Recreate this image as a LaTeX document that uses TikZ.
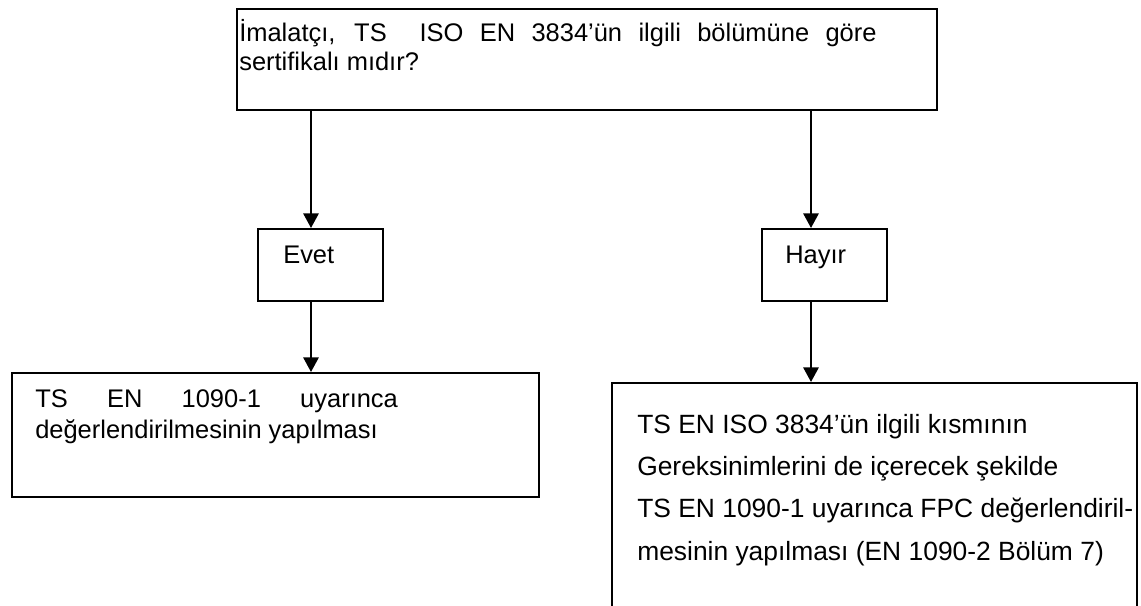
\documentclass[tikz,border=0pt]{standalone}
\usepackage{fontspec}
\setmainfont{Liberation Sans}
\usetikzlibrary{arrows.meta}
\begin{document}
\begin{tikzpicture}[x=0.75pt,y=-0.75pt,
  box/.style={draw, line width=1.6pt, rectangle, inner sep=0pt, anchor=north west},
  txt/.style={anchor=base west, inner sep=0pt, font=\fontsize{19.1}{22}\selectfont},
  txtb/.style={anchor=base west, inner sep=0pt, font=\fontsize{19.8}{22}\selectfont},
  arr/.style={line width=1.6pt, -{Triangle[length=11pt,width=11.5pt]}}]
\useasboundingbox (0,0) rectangle (1141,606);
\clip (0,0) rectangle (1141,606);
% boxes
\node[box, minimum width=525pt, minimum height=75.75pt] (top) at (236,8) {};
\node[box, minimum width=93.75pt, minimum height=54pt] (evet) at (257,228) {};
\node[box, minimum width=93.75pt, minimum height=54pt] (hayir) at (761,228) {};
\node[box, minimum width=395.25pt, minimum height=93pt] (lbox) at (11,372) {};
\node[box, minimum width=393.75pt, minimum height=186pt] (rbox) at (611,382) {};
% texts
\node[txt] (top1) at (239,42) {\makebox[478pt][s]{İmalatçı, TS\ \ ISO EN 3834’ün ilgili bölümüne göre}};
\node[txt] (top2) at (239,71) {sertifikalı mıdır?};
\node[txt] (evett) at (283,263) {Evet};
\node[txt] (hayirt) at (785,263) {Hayır};
\node[txt] (left1) at (35,407) {\makebox[272pt][s]{TS EN 1090-1 uyarınca}};
\node[txt] (left2) at (35,438) {değerlendirilmesinin yapılması};
\node[txtb] (right1) at (637,433) {TS EN ISO 3834’ün ilgili kısmının};
\node[txtb] (right2) at (637,475) {Gereksinimlerini de içerecek şekilde};
\node[txtb] (right3) at (637,517) {TS EN 1090-1 uyarınca FPC değerlendiril-};
\node[txtb] (right4) at (637,560) {mesinin yapılması (EN 1090-2 Bölüm 7)};
% connectors
\coordinate (xl) at (311,0);
\coordinate (xr) at (811,0);
\draw[arr] (xl |- top.south) -- (xl |- evet.north);
\draw[arr] (xl |- evet.south) -- (xl |- lbox.north);
\draw[arr] (xr |- top.south) -- (xr |- hayir.north);
\draw[arr] (xr |- hayir.south) -- (xr |- rbox.north);
\end{tikzpicture}
\end{document}
